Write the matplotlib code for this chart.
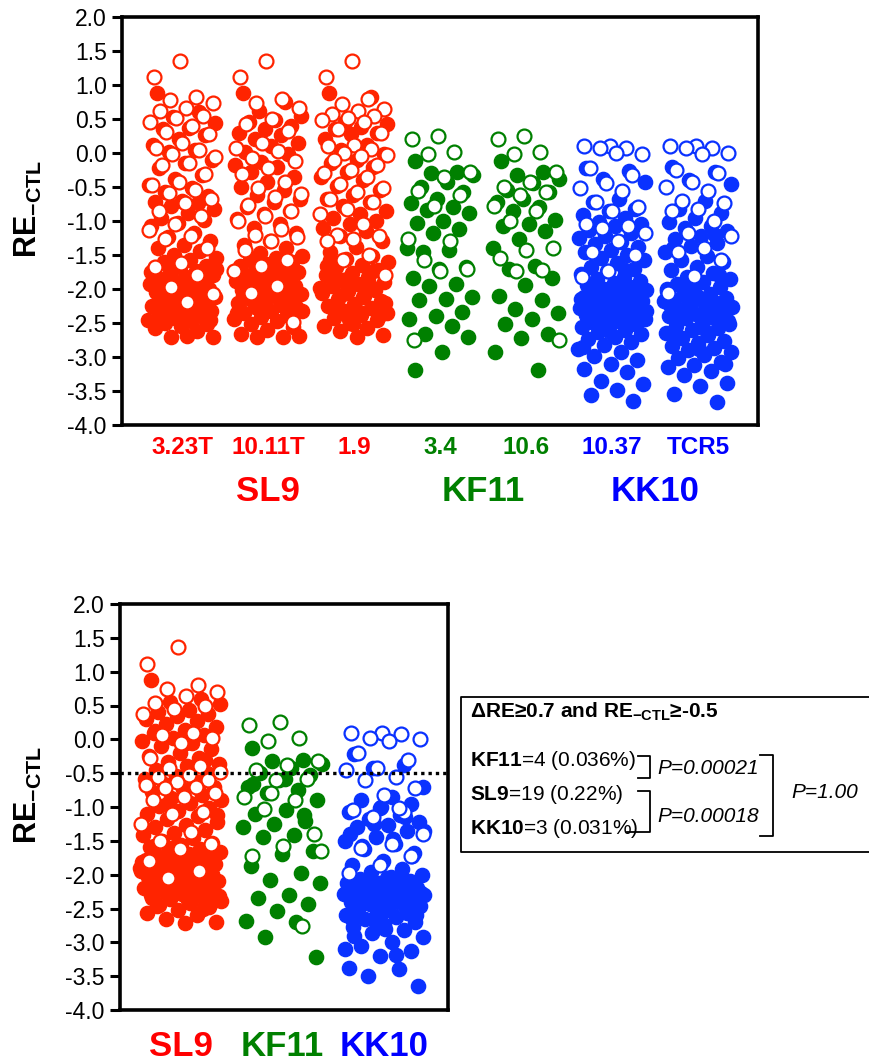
import matplotlib
matplotlib.use("Agg")
import matplotlib.pyplot as plt
from matplotlib.lines import Line2D

plt.rcParams['font.family'] = ['Liberation Sans', 'DejaVu Sans']
plt.rcParams['mathtext.fontset'] = 'custom'
plt.rcParams['mathtext.rm'] = 'Liberation Sans'
plt.rcParams['mathtext.bf'] = 'Liberation Sans:bold'
plt.rcParams['mathtext.it'] = 'Liberation Sans:italic'
plt.rcParams['axes.unicode_minus'] = False

RED = '#ff2400'
GREEN = '#008000'
BLUE = '#0a32ff'

# ---- top panel: individual TCR clones ----
clone_names = ['3.23T', '10.11T', '1.9', '3.4', '10.6', '10.37', 'TCR5']
clone_epitope = ['SL9', 'SL9', 'SL9', 'KF11', 'KF11', 'KK10', 'KK10']

c1_filled = [0.88, 0.60, 0.53, 0.44, 0.37, 0.35, 0.27, 0.20, 0.12, 0.05, 0.02, -0.11, -0.14, -0.22,
             -0.33, -0.38, -0.47, -0.52, -0.57, -0.63, -0.70, -0.72, -0.74, -0.78, -0.82, -0.88,
             -0.95, -0.98, -1.03, -1.08, -1.17, -1.24, -1.30, -1.36, -1.40, -1.44, -1.50, -1.55,
             -1.58, -1.61, -1.66, -1.68, -1.70, -1.73, -1.76, -1.79, -1.82, -1.85, -1.87, -1.90,
             -1.93, -1.95, -1.98, -2.00, -2.03, -2.05, -2.07, -2.10, -2.12, -2.15, -2.17, -2.20,
             -2.22, -2.25, -2.27, -2.30, -2.33, -2.35, -2.38, -2.40, -2.42, -2.45, -2.47, -2.50,
             -2.52, -2.55, -2.58, -2.62, -2.70, -2.71, -2.69, -1.92, -2.08, -2.28, -1.75, -2.36,
             -1.63, -2.46, -1.88, -2.02, -2.18, -2.31, -1.71, -1.97, -2.24, -2.41]
c1_hollow = [1.35, 1.12, 0.82, 0.78, 0.74, 0.66, 0.62, 0.55, 0.52, 0.45, 0.40, 0.31, 0.28, 0.14,
             0.08, 0.04, -0.02, -0.06, -0.15, -0.18, -0.31, -0.42, -0.47, -0.55, -0.59, -0.68,
             -0.73, -0.86, -0.93, -1.05, -1.13, -1.22, -1.26, -1.40, -1.62, -1.67, -1.80, -1.97,
             -2.08, -2.19]

c2_filled = [0.88, 0.75, 0.62, 0.55, 0.48, 0.45, 0.40, 0.36, 0.30, 0.26, 0.20, 0.14, 0.10, 0.02,
             -0.02, -0.13, -0.17, -0.20, -0.28, -0.35, -0.42, -0.50, -0.55, -0.62, -0.68, -0.72,
             -0.80, -0.85, -0.90, -0.97, -1.05, -1.10, -1.18, -1.30, -1.35, -1.40, -1.47, -1.52,
             -1.55, -1.58, -1.60, -1.63, -1.66, -1.70, -1.72, -1.75, -1.77, -1.80, -1.83, -1.85,
             -1.88, -1.91, -1.93, -1.96, -1.98, -2.01, -2.03, -2.06, -2.08, -2.11, -2.13, -2.16,
             -2.18, -2.21, -2.24, -2.27, -2.30, -2.32, -2.35, -2.38, -2.41, -2.44, -2.47, -2.51,
             -2.56, -2.60, -2.66, -2.70, -2.71, -2.69, -1.68, -1.88, -2.04, -2.20, -2.36, -1.62,
             -1.94, -2.26, -1.78, -2.10, -1.73, -2.15, -2.33, -1.99]
c2_hollow = [1.35, 1.12, 0.80, 0.74, 0.66, 0.50, 0.42, 0.32, 0.15, 0.08, 0.03, -0.08, -0.12,
             -0.22, -0.31, -0.42, -0.52, -0.60, -0.65, -0.77, -0.86, -0.93, -1.00, -1.12, -1.20,
             -1.24, -1.30, -1.42, -1.58, -1.66, -1.74, -1.96, -2.06, -2.48]

c3_filled = [0.88, 0.82, 0.45, 0.42, 0.38, 0.35, 0.30, 0.28, 0.20, 0.12, 0.05, -0.02, -0.10, -0.15,
             -0.20, -0.28, -0.35, -0.40, -0.48, -0.55, -0.62, -0.68, -0.72, -0.78, -0.85, -0.90,
             -0.96, -1.00, -1.05, -1.10, -1.15, -1.22, -1.30, -1.38, -1.45, -1.52, -1.56, -1.60,
             -1.64, -1.68, -1.72, -1.76, -1.80, -1.83, -1.87, -1.90, -1.93, -1.96, -2.00, -2.03,
             -2.06, -2.10, -2.14, -2.18, -2.22, -2.25, -2.28, -2.32, -2.35, -2.38, -2.42, -2.46,
             -2.50, -2.55, -2.58, -2.62, -2.68, -2.70, -1.58, -1.74, -1.86, -1.98, -2.12, -2.30,
             -2.40, -2.52, -1.66, -1.92, -2.08, -2.20, -2.34, -1.81, -2.01, -2.44]
c3_hollow = [1.35, 1.12, 0.80, 0.72, 0.65, 0.62, 0.58, 0.55, 0.52, 0.48, 0.45, 0.36, 0.30, 0.12,
             0.10, 0.06, 0.00, -0.03, -0.05, -0.10, -0.18, -0.25, -0.30, -0.35, -0.45, -0.52,
             -0.58, -0.68, -0.72, -0.82, -0.90, -1.05, -1.20, -1.22, -1.26, -1.30, -1.50, -1.58,
             -1.80]

c4_filled = [-0.12, -0.28, -0.30, -0.33, -0.42, -0.50, -0.58, -0.68, -0.74, -0.80, -0.84, -0.88,
             -1.00, -1.03, -1.12, -1.18, -1.40, -1.42, -1.46, -1.68, -1.70, -1.84, -1.92, -1.96,
             -2.12, -2.14, -2.16, -2.34, -2.40, -2.44, -2.54, -2.66, -2.70, -2.92, -3.19]
c4_hollow = [0.25, 0.21, 0.02, -0.02, -0.28, -0.36, -0.56, -0.62, -0.78, -1.27, -1.30, -1.57,
             -1.70, -1.74, -2.75]

c5_filled = [-0.12, -0.28, -0.32, -0.38, -0.44, -0.55, -0.58, -0.68, -0.72, -0.80, -0.85, -0.98,
             -1.04, -1.08, -1.14, -1.27, -1.40, -1.66, -1.70, -1.84, -1.94, -2.10, -2.16, -2.30,
             -2.36, -2.44, -2.52, -2.66, -2.72, -2.92, -3.19]
c5_hollow = [0.25, 0.21, 0.02, -0.02, -0.28, -0.42, -0.50, -0.58, -0.62, -0.78, -0.86, -1.00,
             -1.40, -1.42, -1.55, -1.72, -1.74, -2.75]

c6_filled = [-0.22, -0.26, -0.38, -0.42, -0.68, -0.72, -0.82, -0.86, -0.91, -0.95, -1.01, -1.05,
             -1.08, -1.13, -1.18, -1.22, -1.25, -1.31, -1.34, -1.38, -1.43, -1.46, -1.50, -1.55,
             -1.58, -1.62, -1.67, -1.70, -1.74, -1.78, -1.82, -1.85, -1.88, -1.91, -1.94, -1.97,
             -2.00, -2.02, -2.04, -2.07, -2.08, -2.10, -2.12, -2.14, -2.17, -2.18, -2.20, -2.22,
             -2.24, -2.27, -2.28, -2.30, -2.32, -2.34, -2.37, -2.38, -2.40, -2.42, -2.44, -2.47,
             -2.48, -2.50, -2.53, -2.56, -2.61, -2.63, -2.66, -2.71, -2.74, -2.78, -2.83, -2.88,
             -2.92, -2.98, -3.04, -3.10, -3.18, -3.22, -3.36, -3.40, -3.48, -3.56, -3.65, -2.05,
             -2.15, -2.25, -2.35, -2.45, -2.12, -2.28, -2.38, -2.20, -2.32, -1.92, -2.42, -2.52,
             -2.62, -2.85, -1.72, -2.02, -2.30, -2.18]
c6_hollow = [0.10, 0.10, 0.08, 0.08, -0.02, 0.00, -0.22, -0.32, -0.44, -0.52, -0.56, -0.72,
             -0.80, -0.86, -1.05, -1.08, -1.10, -1.18, -1.30, -1.45, -1.50, -1.74, -1.82]

c7_filled = [-0.20, -0.28, -0.40, -0.45, -0.70, -0.82, -0.88, -0.95, -1.02, -1.08, -1.10, -1.15,
             -1.22, -1.26, -1.33, -1.37, -1.45, -1.52, -1.57, -1.61, -1.68, -1.72, -1.77, -1.83,
             -1.86, -1.90, -1.93, -1.97, -2.01, -2.03, -2.07, -2.09, -2.13, -2.15, -2.17, -2.21,
             -2.23, -2.26, -2.29, -2.31, -2.33, -2.37, -2.39, -2.41, -2.43, -2.47, -2.49, -2.54,
             -2.57, -2.61, -2.64, -2.68, -2.72, -2.76, -2.80, -2.84, -2.87, -2.90, -2.93, -2.97,
             -3.02, -3.08, -3.12, -3.15, -3.20, -3.26, -3.38, -3.42, -3.55, -3.66, -2.06, -2.18,
             -2.27, -2.36, -2.44, -2.11, -2.24, -2.34, -1.98, -2.52, -2.58, -2.70, -1.80, -1.88,
             -2.00, -2.14, -2.31, -3.10, -2.88, -1.40, -1.20]
c7_hollow = [0.10, 0.10, 0.08, 0.07, 0.00, -0.02, -0.25, -0.30, -0.42, -0.50, -0.56, -0.70,
             -0.74, -0.82, -0.86, -1.00, -1.18, -1.22, -1.40, -1.45, -1.57, -1.81, -2.06]

# ---- bottom panel: pooled per epitope ----
epitopes = ['SL9', 'KF11', 'KK10']

sl9_filled = [0.88, 0.60, 0.55, 0.52, 0.44, 0.40, 0.38, 0.35, 0.30, 0.27, 0.22, 0.18, 0.14, 0.10,
              0.06, 0.02, -0.02, -0.06, -0.10, -0.15, -0.20, -0.24, -0.28, -0.33, -0.36, -0.40,
              -0.45, -0.50, -0.54, -0.58, -0.62, -0.66, -0.70, -0.74, -0.78, -0.82, -0.86, -0.90,
              -0.94, -0.98, -1.02, -1.06, -1.10, -1.14, -1.18, -1.22, -1.26, -1.30, -1.34, -1.38,
              -1.42, -1.46, -1.50, -1.53, -1.56, -1.59, -1.62, -1.65, -1.67, -1.70, -1.72, -1.74,
              -1.76, -1.78, -1.80, -1.82, -1.84, -1.86, -1.88, -1.90, -1.92, -1.94, -1.96, -1.98,
              -2.00, -2.02, -2.04, -2.06, -2.08, -2.10, -2.12, -2.14, -2.16, -2.18, -2.20, -2.22,
              -2.24, -2.26, -2.28, -2.30, -2.33, -2.36, -2.39, -2.42, -2.45, -2.48, -2.52, -2.56,
              -2.60, -2.66, -2.70, -2.72, -1.58, -1.64, -1.73, -1.81, -1.87, -1.93, -1.99, -2.05,
              -2.11, -2.17, -2.23, -2.31, -2.38, -2.47, -1.68, -1.77, -1.85, -1.95, -2.03, -2.13,
              -2.25, -2.35, -2.50, -1.61, -1.90, -2.09, -2.19, -2.44, -0.55, -0.64, -0.72, -0.96,
              -1.12, -0.05, 0.12, -0.30]
sl9_hollow = [1.37, 1.12, 0.80, 0.75, 0.70, 0.64, 0.54, 0.50, 0.45, 0.38, 0.10, 0.06, 0.02, -0.05,
              -0.28, -0.40, -0.43, -0.48, -0.52, -0.55, -0.60, -0.63, -0.67, -0.70, -0.72, -0.80,
              -0.85, -0.90, -1.08, -1.10, -1.25, -1.37, -1.50, -1.55, -1.62, -1.80, -1.95, -2.05]

kf11_filled = [-0.13, -0.30, -0.32, -0.37, -0.43, -0.50, -0.53, -0.60, -0.70, -0.75, -0.80, -0.90,
               -1.05, -1.10, -1.20, -1.25, -1.30, -1.42, -1.44, -1.65, -1.70, -1.87, -1.97, -2.08,
               -2.13, -2.30, -2.35, -2.43, -2.53, -2.68, -2.70, -2.92, -3.21, -0.58, -0.66, -1.12]
kf11_hollow = [0.26, 0.21, 0.02, -0.02, -0.32, -0.38, -0.45, -0.58, -0.60, -0.85, -0.90, -1.03,
               -1.40, -1.57, -1.73, -2.76, -0.80, -1.65]

kk10_filled = [-0.22, -0.38, -0.42, -0.70, -0.85, -0.90, -0.95, -1.02, -1.08, -1.12, -1.18, -1.22,
               -1.26, -1.30, -1.36, -1.45, -1.50, -1.55, -1.62, -1.68, -1.80, -1.85, -1.92, -1.96,
               -2.00, -2.03, -2.06, -2.09, -2.12, -2.14, -2.16, -2.18, -2.20, -2.22, -2.24, -2.26,
               -2.28, -2.30, -2.32, -2.34, -2.36, -2.38, -2.40, -2.42, -2.44, -2.46, -2.48, -2.50,
               -2.53, -2.56, -2.59, -2.62, -2.66, -2.70, -2.74, -2.78, -2.82, -2.86, -2.92, -3.00,
               -3.06, -3.13, -3.20, -3.38, -3.40, -3.50, -3.65, -2.05, -2.11, -2.17, -2.23, -2.29,
               -2.35, -2.41, -2.47, -2.55, -2.65, -2.08, -2.19, -2.27, -2.33, -2.39, -2.45, -2.52,
               -2.13, -2.25, -2.37, -2.60, -2.80, -2.90, -1.15, -1.25, -1.35, -1.48, -1.58, -1.72,
               -1.00, -1.40, -2.02, -2.15, -2.31, -2.43, -2.21, -2.57, -2.72, -3.10, -3.18]
kk10_hollow = [0.10, 0.10, 0.08, 0.02, 0.00, -0.02, -0.20, -0.30, -0.43, -0.46, -0.55, -0.60,
               -0.72, -0.82, -1.05, -1.08, -1.15, -1.40, -1.55, -1.60, -1.72, -1.85, -1.97, -1.02]

top_filled = [c1_filled, c2_filled, c3_filled, c4_filled, c5_filled, c6_filled, c7_filled]
top_hollow = [c1_hollow, c2_hollow, c3_hollow, c4_hollow, c5_hollow, c6_hollow, c7_hollow]
bot_filled = [sl9_filled, kf11_filled, kk10_filled]
bot_hollow = [sl9_hollow, kf11_hollow, kk10_hollow]

colors = {'SL9': RED, 'KF11': GREEN, 'KK10': BLUE}
label_colors = {'SL9': '#ff0000', 'KF11': '#008000', 'KK10': '#0000ff'}

W, H = 869, 1061
fig = plt.figure(figsize=(W / 100, H / 100), dpi=100)


def px_rect(l, t, r, b):
    return [l / W, 1 - b / H, (r - l) / W, (b - t) / H]


def spread(n, phase):
    # deterministic horizontal spread of points inside a column
    return [2 * ((i * 0.6180339887 + phase) % 1.0) - 1 for i in range(n)]


def strip(ax, x0, filled, hollow, color, half):
    xs = [x0 + half * d for d in spread(len(filled), 0.13)]
    ax.scatter(xs, filled, s=105, c=color, edgecolors=color, linewidths=1.0, zorder=3)
    xs = [x0 + half * d for d in spread(len(hollow), 0.47)]
    ax.scatter(xs, hollow, s=100, facecolors='white', edgecolors=color, linewidths=1.6, zorder=4)


def style(ax):
    for sp in ax.spines.values():
        sp.set_linewidth(2.6)
    ax.set_ylim(-4.0, 2.0)
    ax.set_yticks([-4 + 0.5 * k for k in range(13)])
    ax.set_yticklabels(['%.1f' % (-4 + 0.5 * k) for k in range(13)])
    ax.tick_params(axis='y', direction='out', length=7, width=2.2, labelsize=16.5, pad=4)
    ax.tick_params(axis='x', length=0, labelbottom=False)
    ax.set_ylabel(r'RE$_{\mathbf{-CTL}}$', fontsize=22, fontweight='bold')


# top panel
ax1 = fig.add_axes(px_rect(122, 17, 758, 425))
for i in range(7):
    strip(ax1, i + 1, top_filled[i], top_hollow[i], colors[clone_epitope[i]], 0.40)
ax1.set_xlim(0.30, 7.70)
style(ax1)
ax1.yaxis.set_label_coords(-0.122, 0.53)
for i, name in enumerate(clone_names):
    ax1.text(i + 1, -0.054, name, transform=ax1.get_xaxis_transform(), ha='center', va='center',
             fontsize=17.5, fontweight='bold', color=label_colors[clone_epitope[i]])
for ep in epitopes:
    pos = [i + 1 for i in range(7) if clone_epitope[i] == ep]
    ax1.text(sum(pos) / len(pos), -0.162, ep, transform=ax1.get_xaxis_transform(), ha='center',
             va='center', fontsize=25, fontweight='bold', color=label_colors[ep])

# bottom panel
ax2 = fig.add_axes(px_rect(120, 604, 448, 1010))
for i, ep in enumerate(epitopes):
    strip(ax2, i + 1, bot_filled[i], bot_hollow[i], colors[ep], 0.40)
ax2.set_xlim(0.40, 3.63)
style(ax2)
ax2.yaxis.set_label_coords(-0.232, 0.53)
ax2.axhline(-0.5, color='black', linestyle=(0, (1, 1.2)), linewidth=2.4, zorder=5)
for i, ep in enumerate(epitopes):
    ax2.text(i + 1, -0.09, ep, transform=ax2.get_xaxis_transform(), ha='center', va='center',
             fontsize=25, fontweight='bold', color=label_colors[ep])


# annotation box with counts and P values
def fline(xs, ys, lw=1.3):
    fig.add_artist(Line2D([x / W for x in xs], [1 - y / H for y in ys], color='black',
                          linewidth=lw, transform=fig.transFigure))


fline([885, 461, 461, 885], [697, 697, 852, 852], lw=1.3)
fs = 15
fig.text(470 / W, 1 - 712 / H, r'ΔRE≥0.7 and RE$_{\mathbf{-CTL}}$≥-0.5', fontsize=fs,
         fontweight='bold', va='center', ha='left')
counts = [('KF11', '=4 (0.036%)', 761), ('SL9', '=19 (0.22%)', 795), ('KK10', '=3 (0.031%)', 829)]
for bold, rest, y in counts:
    fig.text(470 / W, 1 - y / H, r'$\mathbf{%s}$%s' % (bold, rest), fontsize=fs, va='center',
             ha='left')

fline([638, 650, 650, 638], [756, 756, 778, 778])
fline([638, 650, 650, 627], [791, 791, 832, 832])
fline([760, 773, 773, 760], [755, 755, 836, 836])
fig.text(657 / W, 1 - 768 / H, 'P=0.00021', fontsize=fs, fontstyle='italic', va='center')
fig.text(657 / W, 1 - 817 / H, 'P=0.00018', fontsize=fs, fontstyle='italic', va='center')
fig.text(791 / W, 1 - 793 / H, 'P=1.00', fontsize=fs, fontstyle='italic', va='center')

fig.savefig('out.png', dpi=100)
